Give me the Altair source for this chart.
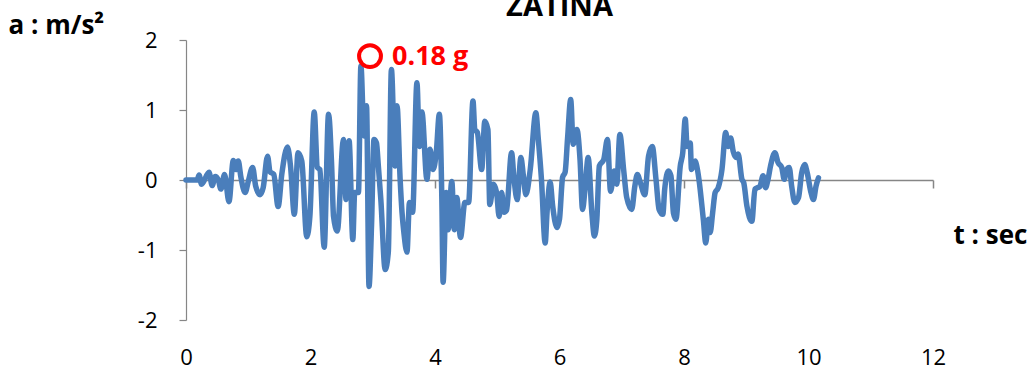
import altair as alt
import pandas as pd

t_values = [0.0, 0.18, 0.21, 0.25, 0.37, 0.42, 0.47, 0.52, 0.56, 0.62, 0.69, 0.76, 0.80, 0.84, 0.88, 0.95,
            1.00, 1.07, 1.12, 1.19, 1.24, 1.31, 1.35, 1.41, 1.48, 1.54, 1.63, 1.68, 1.74, 1.80, 1.86, 1.94,
            1.99, 2.06, 2.11, 2.15, 2.22, 2.29, 2.34, 2.37, 2.43, 2.53, 2.57, 2.62, 2.68, 2.71, 2.77, 2.81,
            2.86, 2.90, 2.94, 2.98, 3.02, 3.06, 3.09, 3.13, 3.20, 3.25, 3.30, 3.36, 3.39, 3.44, 3.47, 3.50,
            3.55, 3.59, 3.64, 3.71, 3.75, 3.79, 3.87, 3.92, 3.97, 4.02, 4.07, 4.11, 4.13, 4.18, 4.21, 4.27,
            4.31, 4.35, 4.41, 4.48, 4.54, 4.61, 4.64, 4.68, 4.75, 4.80, 4.85, 4.88, 4.94, 4.99, 5.03, 5.07,
            5.11, 5.15, 5.23, 5.27, 5.32, 5.38, 5.42, 5.46, 5.53, 5.62, 5.66, 5.71, 5.77, 5.80, 5.85, 5.89,
            5.96, 6.00, 6.05, 6.09, 6.13, 6.18, 6.22, 6.28, 6.33, 6.37, 6.41, 6.46, 6.52, 6.56, 6.60, 6.64,
            6.71, 6.77, 6.82, 6.88, 6.92, 6.97, 7.03, 7.08, 7.16, 7.21, 7.25, 7.30, 7.37, 7.43, 7.49, 7.55,
            7.60, 7.66, 7.69, 7.75, 7.79, 7.83, 7.87, 7.94, 7.98, 8.02, 8.05, 8.10, 8.12, 8.18, 8.20, 8.24,
            8.31, 8.35, 8.39, 8.42, 8.46, 8.50, 8.55, 8.61, 8.67, 8.71, 8.75, 8.79, 8.84, 8.87, 8.93, 8.96,
            9.01, 9.09, 9.14, 9.18, 9.22, 9.27, 9.31, 9.35, 9.39, 9.46, 9.51, 9.57, 9.61, 9.65, 9.69, 9.73,
            9.78, 9.84, 9.89, 9.94, 9.98, 10.04, 10.08, 10.12, 10.16]
a_values = [0.0, 0.0, 0.07, -0.06, 0.11, -0.08, 0.05, 0.0, -0.13, 0.08, -0.31, 0.28, 0.15, 0.27, 0.05, -0.18,
            -0.02, 0.18, -0.09, -0.21, -0.11, 0.34, 0.12, 0.08, -0.38, 0.09, 0.47, 0.19, -0.49, 0.39, 0.27, -0.81,
            -0.52, 0.97, 0.18, 0.15, -0.96, 0.94, 0.20, -0.52, -0.73, 0.58, -0.28, 0.56, -0.85, -0.18, -0.18, 1.63,
            0.63, 1.06, -1.52, -0.66, 0.58, 0.53, 0.20, -0.28, -1.28, -1.03, 1.58, 0.20, 1.06, 0.01, -0.46, -0.75,
            -1.03, -0.32, -0.46, 1.39, 0.48, 0.97, 0.01, 0.44, 0.15, 0.39, 0.94, -0.28, -1.46, -0.18, -0.71, -0.02,
            -0.71, -0.25, -0.82, -0.32, -0.32, 1.13, 0.72, 0.68, 0.15, 0.84, 0.72, -0.35, -0.06, -0.18, -0.52, -0.18,
            -0.46, -0.43, 0.39, 0.01, -0.28, 0.32, 0.06, -0.21, 0.15, 0.96, 0.58, 0.01, -0.90, -0.46, -0.03, -0.37,
            -0.68, -0.56, 0.04, 0.11, 0.60, 1.15, 0.51, 0.72, 0.29, -0.42, -0.13, 0.32, -0.47, -0.80, -0.56, 0.20,
            0.29, 0.58, -0.16, 0.13, -0.06, 0.65, 0.15, -0.25, -0.42, -0.09, 0.08, -0.04, -0.21, 0.34, 0.48, 0.01,
            -0.42, -0.49, -0.13, 0.13, 0.06, -0.47, -0.56, 0.20, 0.39, 0.87, 0.48, 0.53, 0.15, 0.27, 0.22, 0.01,
            -0.56, -0.90, -0.56, -0.75, -0.47, -0.18, -0.11, 0.15, 0.68, 0.48, 0.60, 0.41, 0.32, 0.37, 0.01, -0.04,
            -0.37, -0.59, -0.13, -0.11, -0.09, 0.06, -0.11, 0.01, 0.20, 0.39, 0.25, 0.18, 0.01, 0.15, 0.18, -0.09,
            -0.32, -0.25, 0.10, 0.22, 0.10, -0.18, -0.28, -0.09, 0.03]

x_ticks = [0, 2, 4, 6, 8, 10, 12]
y_ticks = [-2, -1, 0, 1, 2]

peak_t = [2.956]
peak_a = [1.77]
peak_label = ["0.18 g"]

FONT = "Open Sans"
GRAY = "#868686"
HYPHEN_LABEL = "datum.value < 0 ? '-' + format(abs(datum.value), 'd') : format(datum.value, 'd')"

df = pd.DataFrame({"t": t_values, "a": a_values})
peak = pd.DataFrame({"t": peak_t, "a": peak_a, "label": peak_label})

xscale = alt.Scale(domain=[0, 12], nice=False, zero=False)
yscale = alt.Scale(domain=[-2, 2], nice=False)

line = alt.Chart(df).mark_line(
    color="#4A7EBB", strokeWidth=5.5, interpolate="monotone", strokeJoin="round", strokeCap="round"
).encode(
    x=alt.X("t:Q", scale=xscale, axis=alt.Axis(
        orient="bottom", offset=-140, values=x_ticks, labels=False, grid=False,
        domainColor=GRAY, domainWidth=1.5, tickColor=GRAY, tickWidth=1.5, tickSize=8, title=None)),
    y=alt.Y("a:Q", scale=yscale, axis=alt.Axis(
        values=y_ticks, grid=False, domainColor=GRAY, domainWidth=1.2, tickColor=GRAY, tickWidth=1.2,
        tickSize=7, labelPadding=22, labelFont=FONT, labelFontSize=22, labelColor="black",
        labelExpr=HYPHEN_LABEL, labelFlush=False,
        title="a : m/s²", titleAngle=0, titleAlign="left", titleBaseline="alphabetic",
        titleX=-178, titleY=-7, titleFont=FONT, titleFontSize=26, titleFontWeight="bold",
        titleColor="black")),
)

circle = alt.Chart(peak).mark_point(
    shape="circle", filled=False, color="#FF0000", size=480, strokeWidth=4, opacity=1
).encode(
    x=alt.X("t:Q", scale=xscale, axis=alt.Axis(
        orient="bottom", values=x_ticks, domain=False, ticks=False, grid=False,
        labelFont=FONT, labelFontSize=22, labelColor="black", labelPadding=27, labelFlush=False,
        title="t : sec", titleAlign="left", titleBaseline="alphabetic", titleX=767, titleY=-77,
        titleFont=FONT, titleFontSize=26, titleFontWeight="bold", titleColor="black")),
    y=alt.Y("a:Q", scale=yscale, axis=None),
)

label = alt.Chart(peak).mark_text(
    align="left", baseline="alphabetic", dx=22, dy=9, font=FONT, fontSize=27,
    fontWeight="bold", color="#FF0000"
).encode(
    x=alt.X("t:Q", scale=xscale, axis=None),
    y=alt.Y("a:Q", scale=yscale, axis=None),
    text="label:N",
)

chart = alt.layer(line, circle, label).resolve_axis(x="independent", y="independent").properties(
    width=747, height=280,
    autosize=alt.AutoSizeParams(type="none"),
    padding={"left": 186, "top": 40, "right": 99, "bottom": 51},
    title=alt.TitleParams("ZATINA", font=FONT, fontSize=29, fontWeight="bold", color="black",
                          anchor="middle", baseline="alphabetic", offset=-33),
).configure_view(stroke=None)

chart.save("out.html", embed_options={"renderer": "svg", "actions": False})
